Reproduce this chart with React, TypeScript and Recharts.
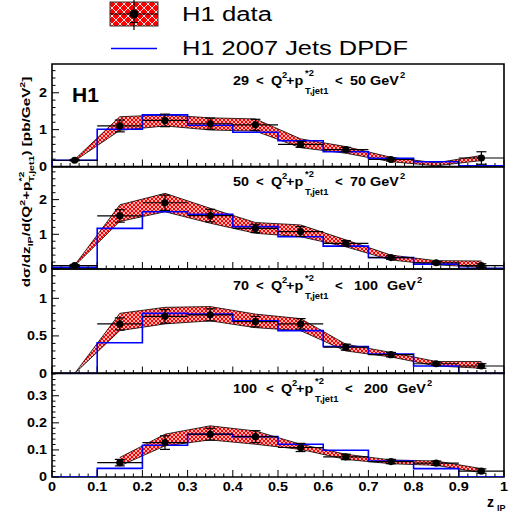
import React from "react";
import { ComposedChart, Area, Line, Scatter, XAxis, YAxis, ErrorBar, ReferenceArea } from "recharts";

// ---------- data ----------
const zCenters = [0.05, 0.15, 0.25, 0.35, 0.45, 0.55, 0.65, 0.75, 0.85, 0.95];
const binEdges = [0, 0.1, 0.2, 0.3, 0.4, 0.5, 0.6, 0.7, 0.8, 0.9, 1.0];
const binHalfWidth = 0.05;
const xMajorTicks = [0, 0.1, 0.2, 0.3, 0.4, 0.5, 0.6, 0.7, 0.8, 0.9, 1];
const xTickLabels = ["0", "0.1", "0.2", "0.3", "0.4", "0.5", "0.6", "0.7", "0.8", "0.9", "1"];

// Panel 1: 29 < Q2+pT2 < 50 GeV2
const p1Range = ["29", "50"];
const p1Data = [0.17, 1.1, 1.25, 1.16, 1.13, 0.6, 0.46, 0.19, null, 0.23];
const p1Err = [0.02, 0.16, 0.17, 0.15, 0.15, 0.08, 0.06, 0.04, null, 0.17];
const p1BandLow = [0.15, 0.98, 1.1, 0.99, 0.96, 0.51, 0.36, 0.13, 0.02, 0.16];
const p1BandHigh = [0.19, 1.35, 1.4, 1.32, 1.29, 0.75, 0.54, 0.25, 0.1, 0.3];
const p1Model = [0.17, 1.01, 1.4, 1.12, 0.93, 0.7, 0.4, 0.22, 0.13, 0.02];
const p1YTicks = [0, 1, 2];
const p1YLabels = ["0", "1", "2"];

// Panel 2: 50 < Q2+pT2 < 70 GeV2
const p2Range = ["50", "70"];
const p2Data = [0.1, 1.53, 1.91, 1.54, 1.17, 1.08, 0.74, 0.33, 0.18, 0.1];
const p2Err = [0.03, 0.18, 0.22, 0.18, 0.12, 0.14, 0.08, 0.05, 0.04, 0.05];
const p2BandLow = [0.09, 1.37, 1.65, 1.32, 1.03, 0.93, 0.64, 0.26, 0.12, 0.05];
const p2BandHigh = [0.11, 1.85, 2.18, 1.75, 1.34, 1.27, 0.84, 0.4, 0.24, 0.23];
const p2Model = [0.05, 1.17, 1.65, 1.58, 1.22, 0.93, 0.66, 0.33, 0.14, 0.02];
const p2YTicks = [0, 1, 2];
const p2YLabels = ["0", "1", "2"];

// Panel 3: 70 < Q2+pT2 < 100 GeV2
const p3Range = ["70", "100"];
const p3Data = [null, 0.66, 0.76, 0.78, 0.69, 0.66, 0.35, 0.25, 0.13, 0.1];
const p3Err = [null, 0.08, 0.09, 0.08, 0.07, 0.07, 0.04, 0.03, 0.02, 0.03];
const p3BandLow = [0, 0.57, 0.66, 0.7, 0.61, 0.57, 0.3, 0.22, 0.1, 0.07];
const p3BandHigh = [0, 0.8, 0.88, 0.89, 0.79, 0.73, 0.39, 0.28, 0.16, 0.16];
const p3Model = [0, 0.41, 0.8, 0.79, 0.7, 0.57, 0.36, 0.26, 0.1, 0];
const p3YTicks = [0, 0.5, 1];
const p3YLabels = ["0", "0.5", "1"];

// Panel 4: 100 < Q2+pT2 < 200 GeV2
const p4Range = ["100", "200"];
const p4Data = [null, 0.053, 0.127, 0.158, 0.149, 0.109, 0.074, 0.057, 0.051, 0.022];
const p4Err = [null, 0.012, 0.025, 0.022, 0.022, 0.015, 0.01, 0.008, 0.008, 0.008];
const p4BandLow = [null, 0.041, 0.115, 0.137, 0.121, 0.102, 0.065, 0.049, 0.043, 0.016];
const p4BandHigh = [null, 0.072, 0.158, 0.189, 0.17, 0.121, 0.084, 0.063, 0.059, 0.031];
const p4Model = [0, 0.032, 0.117, 0.158, 0.149, 0.121, 0.099, 0.059, 0.031, 0];
const p4YTicks = [0, 0.1, 0.2, 0.3];
const p4YLabels = ["0", "0.1", "0.2", "0.3"];

const seriesNames = ["H1 data", "H1 2007 Jets DPDF"];

// ---------- layout ----------
const FONT = "'Liberation Sans', Arial, Helvetica, sans-serif";
const W = 510;
const PLOT_LEFT = 52;
const PLOT_RIGHT = 504;

const panels = [
  { range: p1Range, data: p1Data, err: p1Err, lo: p1BandLow, hi: p1BandHigh, model: p1Model, yTicks: p1YTicks, yLabels: p1YLabels, top: 64, bottom: 166.5, yMax: 2.78, minorStep: 0.2, labelDy: 21 },
  { range: p2Range, data: p2Data, err: p2Err, lo: p2BandLow, hi: p2BandHigh, model: p2Model, yTicks: p2YTicks, yLabels: p2YLabels, top: 166.5, bottom: 268.5, yMax: 2.94, minorStep: 0.2, labelDy: 19 },
  { range: p3Range, data: p3Data, err: p3Err, lo: p3BandLow, hi: p3BandHigh, model: p3Model, yTicks: p3YTicks, yLabels: p3YLabels, top: 268.5, bottom: 373, yMax: 1.39, minorStep: 0.1, labelDy: 21.5 },
  { range: p4Range, data: p4Data, err: p4Err, lo: p4BandLow, hi: p4BandHigh, model: p4Model, yTicks: p4YTicks, yLabels: p4YLabels, top: 373, bottom: 477, yMax: 0.384, minorStep: 0.02, labelDy: 19.5 },
];

const near = (a: number, b: number) => Math.abs(a - b) < 1e-6;

function minorTicks(step: number, max: number) {
  const out: number[] = [];
  for (let i = 0; i * step <= max + 1e-9; i++) out.push(Math.round(i * step * 10000) / 10000);
  return out;
}

function T({ x, y, size, sx = 1, anchor = "start", children, weight = "bold", fill = "#000" }: any) {
  return (
    <text
      transform={`translate(${x},${y}) scale(${sx},1)`}
      fontSize={size}
      fontWeight={weight}
      fontFamily={FONT}
      textAnchor={anchor}
      fill={fill}
    >
      {children}
    </text>
  );
}

function makeXTick(showLabels: boolean) {
  return (props: any) => {
    const { x, y, payload } = props;
    const v = payload.value;
    const mi = xMajorTicks.findIndex((m) => near(m, v));
    const major = mi >= 0;
    return (
      <g>
        <line x1={x} x2={x} y1={y} y2={y - (major ? 7 : 3.5)} stroke="#000" strokeWidth={1} />
        {showLabels && major && (
          <T x={x} y={y + 13.5} size={12} sx={1.2} anchor="middle">
            {xTickLabels[mi]}
          </T>
        )}
      </g>
    );
  };
}

function makeYTick(majors: number[], labels: string[]) {
  return (props: any) => {
    const { x, y, payload } = props;
    const v = payload.value;
    const mi = majors.findIndex((m) => near(m, v));
    const major = mi >= 0;
    return (
      <g>
        <line x1={x} x2={x + (major ? 7 : 3.5)} y1={y} y2={y} stroke="#000" strokeWidth={1} />
        {major && (
          <T x={x - 5} y={y + 4.4} size={12} sx={1.2} anchor="end">
            {labels[mi]}
          </T>
        )}
      </g>
    );
  };
}

function Panel({ p, idx, isBottom }: any) {
  const bandRows = zCenters.map((x, i) => ({ x, band: p.lo[i] == null ? null : [p.lo[i], p.hi[i]] }));
  const pointRows = zCenters
    .map((x, i) => ({ x, y: p.data[i], err: p.err[i], xerr: binHalfWidth }))
    .filter((r) => r.y != null);
  const histRows = [
    { x: binEdges[0], y: 0 },
    ...p.model.map((v: number, i: number) => ({ x: binEdges[i], y: v })),
    { x: binEdges[binEdges.length - 1], y: p.model[p.model.length - 1] },
    { x: binEdges[binEdges.length - 1], y: 0 },
  ];
  const padTop = 10;
  const padBottom = isBottom ? 37 : 10;
  const h = p.bottom - p.top;
  const xTicks = minorTicks(0.02, 1);
  const yTicks = minorTicks(p.minorStep, p.yMax);
  const pid = `hatch${idx}`;
  return (
    <div style={{ position: "absolute", left: 0, top: p.top - padTop }}>
      <ComposedChart
        width={W}
        height={h + padTop + padBottom}
        data={bandRows}
        margin={{ top: padTop, bottom: padBottom - 1, left: PLOT_LEFT - 1, right: W - PLOT_RIGHT }}
      >
        <defs>
          <pattern id={pid} patternUnits="userSpaceOnUse" width={4} height={4}>
            <rect x={0} y={0} width={4} height={4} fill="#ff0000" />
            <path d="M0,0 L4,4 M4,0 L0,4" stroke="#ffffff" strokeWidth={0.7} />
          </pattern>
        </defs>
        <XAxis
          type="number"
          dataKey="x"
          domain={[0, 1]}
          ticks={xTicks}
          interval={0}
          tickSize={0}
          tickMargin={0}
          height={1}
          axisLine={false}
          tickLine={false}
          allowDataOverflow
          tick={makeXTick(isBottom)}
        />
        <YAxis
          type="number"
          domain={[0, p.yMax]}
          ticks={yTicks}
          interval={0}
          tickSize={0}
          tickMargin={0}
          width={1}
          axisLine={false}
          tickLine={false}
          allowDataOverflow
          tick={makeYTick(p.yTicks, p.yLabels)}
        />
        <Area
          dataKey="band"
          type="linear"
          fill={`url(#${pid})`}
          fillOpacity={1}
          stroke="#000"
          strokeWidth={0.8}
          dot={false}
          activeDot={false}
          isAnimationActive={false}
        />
        <Line
          data={histRows}
          dataKey="y"
          type="stepAfter"
          stroke="#0000ff"
          strokeWidth={1.6}
          dot={false}
          activeDot={false}
          isAnimationActive={false}
        />
        <Scatter
          data={pointRows}
          dataKey="y"
          isAnimationActive={false}
          shape={(sp: any) => <circle cx={sp.cx} cy={sp.cy} r={3.6} fill="#000" />}
        >
          <ErrorBar dataKey="err" direction="y" width={5} stroke="#000" strokeWidth={1.2} />
          <ErrorBar dataKey="xerr" direction="x" width={0} stroke="#000" strokeWidth={1.2} />
        </Scatter>
        <ReferenceArea
          x1={0}
          x2={1}
          y1={0}
          y2={p.yMax}
          fill="none"
          fillOpacity={0}
          stroke="#000"
          strokeWidth={1.6}
          ifOverflow="visible"
        />
      </ComposedChart>
    </div>
  );
}

function RangeLabel({ p }: any) {
  const [lo, hi] = p.range;
  const y = p.top + p.labelDy;
  const s = lo.length === 3 ? 10 : 0;
  const hiX = 350 + s + (hi.length === 3 ? 4 : 0);
  const gevX = hiX + (hi.length === 3 ? 33 : 20);
  return (
    <g>
      <T x={233} y={y} size={12} sx={1.2}>{lo}</T>
      <T x={256 + s} y={y} size={12} sx={1.1}>{"<"}</T>
      <T x={271 + s} y={y} size={12} sx={1.2}>Q</T>
      <T x={282 + s} y={y - 7} size={8.5} sx={1.1}>2</T>
      <T x={286 + s} y={y} size={12} sx={1.2}>+p</T>
      <T x={305 + s} y={y - 9} size={8.5} sx={1.1}>*2</T>
      <T x={305 + s} y={y + 9} size={8.5} sx={1.1}>T,jet1</T>
      <T x={335 + s} y={y} size={12} sx={1.1}>{"<"}</T>
      <T x={hiX} y={y} size={12} sx={1.2}>{hi}</T>
      <T x={gevX} y={y} size={12} sx={1.2}>GeV</T>
      <T x={gevX + 30} y={y - 7} size={8.5} sx={1.1}>2</T>
    </g>
  );
}

function Overlay() {
  return (
    <svg width={W} height={514} style={{ position: "absolute", left: 0, top: 0, pointerEvents: "none" }}>
      <defs>
        <pattern id="legendHatch" patternUnits="userSpaceOnUse" width={8} height={8}>
          <rect x={0} y={0} width={8} height={8} fill="#ff0000" />
          <path d="M0,0 L8,8 M8,0 L0,8" stroke="#ffffff" strokeWidth={0.9} />
        </pattern>
      </defs>
      {/* legend */}
      <rect x={110} y={2} width={48} height={24} fill="url(#legendHatch)" stroke="#333" strokeWidth={1} />
      <line x1={110} x2={158} y1={14} y2={14} stroke="#000" strokeWidth={1.2} />
      <line x1={134} x2={134} y1={0} y2={30} stroke="#000" strokeWidth={1.2} />
      <line x1={130} x2={138} y1={22.5} y2={22.5} stroke="#000" strokeWidth={1.2} />
      <circle cx={134} cy={14} r={4.5} fill="#000" />
      <text x={182} y={21} fontSize={20} fontFamily={FONT} textLength={90} lengthAdjust="spacingAndGlyphs">
        {seriesNames[0]}
      </text>
      <line x1={111} x2={157} y1={48.5} y2={48.5} stroke="#0000ff" strokeWidth={1.6} />
      <text x={182} y={55} fontSize={20} fontFamily={FONT} textLength={226} lengthAdjust="spacingAndGlyphs">
        {seriesNames[1]}
      </text>
      {/* H1 label */}
      <T x={72} y={102} size={21} sx={1}>H1</T>
      {panels.map((p, i) => (
        <RangeLabel key={i} p={p} />
      ))}
      {/* y title */}
      <g transform="translate(29.5,182) rotate(-90) scale(1.33,1)">
        <text fontSize={11.5} fontWeight="bold" fontFamily={FONT} textAnchor="middle">
          <tspan>dσ/dz</tspan>
          <tspan fontSize={8} dy={3}>IP</tspan>
          <tspan dy={-3}>/d(Q</tspan>
          <tspan fontSize={8} dy={-5}>2</tspan>
          <tspan dy={5}>+p</tspan>
          <tspan fontSize={8} dy={-6}>*2</tspan>
          <tspan fontSize={8} dx={-8} dy={10}>T,jet1</tspan>
          <tspan dy={-4}>)  [pb/GeV</tspan>
          <tspan fontSize={8} dy={-5}>2</tspan>
          <tspan dy={5}>]</tspan>
        </text>
      </g>
      {/* x title */}
      <T x={487} y={507} size={14} sx={1}>z</T>
      <T x={497} y={511} size={9} sx={1}>IP</T>
    </svg>
  );
}

export default function App() {
  return (
    <div style={{ position: "absolute", left: 0, top: 0, width: W, height: 514, background: "#fff", overflow: "hidden" }}>
      {panels.map((p, i) => (
        <Panel key={i} p={p} idx={i} isBottom={i === panels.length - 1} />
      ))}
      <Overlay />
    </div>
  );
}
